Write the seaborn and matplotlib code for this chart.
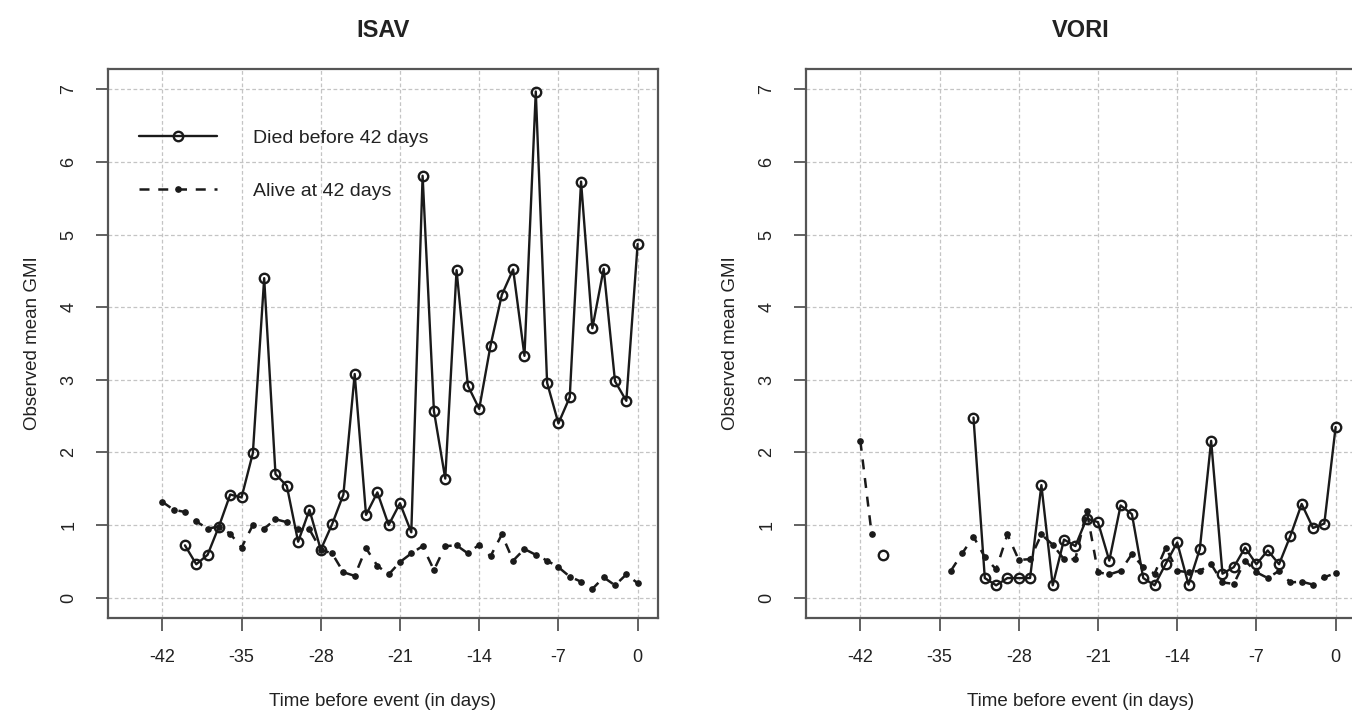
import numpy as np
import pandas as pd
import matplotlib
matplotlib.use("Agg")
import matplotlib.pyplot as plt
import seaborn as sns
from matplotlib.lines import Line2D

# ---------------- data ----------------
panel_titles = ["ISAV", "VORI"]
series_labels = ["Died before 42 days", "Alive at 42 days"]
x_ticks = [-42, -35, -28, -21, -14, -7, 0]
y_ticks = [0, 1, 2, 3, 4, 5, 6, 7]

isav_died_days = list(range(-40, 1))
isav_died = [0.72, 0.46, 0.59, 0.98, 1.42, 1.38, 1.99, 4.40, 1.70, 1.54,
             0.77, 1.21, 0.66, 1.01, 1.42, 3.08, 1.14, 1.45, 1.00, 1.30,
             0.90, 5.81, 2.57, 1.64, 4.51, 2.92, 2.60, 3.47, 4.17, 4.52,
             3.33, 6.97, 2.96, 2.40, 2.76, 5.73, 3.71, 4.53, 2.98, 2.71,
             4.87]

isav_alive_days = list(range(-42, 1))
isav_alive = [1.32, 1.21, 1.18, 1.05, 0.95, 0.98, 0.88, 0.69, 1.00, 0.95,
              1.08, 1.04, 0.94, 0.94, 0.66, 0.61, 0.35, 0.30, 0.68, 0.44,
              0.32, 0.49, 0.61, 0.71, 0.38, 0.71, 0.72, 0.61, 0.73, 0.57,
              0.87, 0.51, 0.67, 0.59, 0.51, 0.42, 0.29, 0.22, 0.12, 0.28,
              0.17, 0.32, 0.20]

# VORI: series with gaps (separate runs of consecutive days)
vori_died_days_a = [-40]
vori_died_a = [0.59]
vori_died_days_b = list(range(-32, 1))
vori_died_b = [2.48, 0.27, 0.17, 0.27, 0.27, 0.27, 1.55, 0.17, 0.80, 0.71,
               1.09, 1.04, 0.51, 1.27, 1.15, 0.27, 0.17, 0.47, 0.76, 0.18,
               0.67, 2.16, 0.33, 0.42, 0.69, 0.46, 0.65, 0.46, 0.85, 1.29,
               0.96, 1.02, 2.35]

vori_alive_days_a = [-42, -41]
vori_alive_a = [2.16, 0.88]
vori_alive_days_b = list(range(-34, 1))
vori_alive_b = [0.37, 0.61, 0.84, 0.56, 0.39, 0.87, 0.52, 0.53, 0.87, 0.73,
                0.53, 0.53, 1.20, 0.35, 0.32, 0.37, 0.60, 0.42, 0.33, 0.69,
                0.37, 0.35, 0.37, 0.46, 0.21, 0.19, 0.51, 0.35, 0.27, 0.37,
                0.21, 0.22, 0.18, 0.28, 0.34]

# ---------------- style ----------------
sns.set_theme(style="white")
plt.rcParams["font.family"] = ["Liberation Sans", "DejaVu Sans"]

LINE_COL = "#1a1a1a"
TXT_COL = "#222222"
DIED_STYLE = dict(color=LINE_COL, linewidth=1.7, linestyle="-", marker="o",
                  markersize=6.8, markerfacecolor="none",
                  markeredgecolor=LINE_COL, markeredgewidth=1.7)
ALIVE_STYLE = dict(color=LINE_COL, linewidth=1.8, linestyle=(0, (4, 3.5)),
                   marker="o", markersize=3.8, markerfacecolor=LINE_COL,
                   markeredgecolor=LINE_COL, markeredgewidth=1.0)

W, H = 1352, 714
fig = plt.figure(figsize=(W / 100, H / 100), dpi=100)
fig.patch.set_facecolor("white")

ax_w = (658 - 108) / W
ax_h = (618 - 69) / H
ax_b = 1 - 618 / H
axes = [fig.add_axes([108 / W, ax_b, ax_w, ax_h]),
        fig.add_axes([806 / W, ax_b, ax_w, ax_h])]

panels = [
    [(isav_died_days, isav_died, DIED_STYLE),
     (isav_alive_days, isav_alive, ALIVE_STYLE)],
    [(vori_died_days_a, vori_died_a, DIED_STYLE),
     (vori_died_days_b, vori_died_b, DIED_STYLE),
     (vori_alive_days_a, vori_alive_a, ALIVE_STYLE),
     (vori_alive_days_b, vori_alive_b, ALIVE_STYLE)],
]

for ax, title, segs in zip(axes, panel_titles, panels):
    ax.set_facecolor("white")
    for xs, ys, st in segs:
        df = pd.DataFrame({"day": xs, "gmi": ys})
        sns.lineplot(data=df, x="day", y="gmi", ax=ax, estimator=None,
                     sort=False, legend=False, zorder=3, **st)
    ax.set_xlim(-46.8, 1.8)
    ax.set_ylim(-0.28, 7.28)
    ax.set_xticks(x_ticks)
    ax.set_xticklabels([str(t) for t in x_ticks])
    ax.set_yticks(y_ticks)
    ax.set_yticklabels([str(t) for t in y_ticks], rotation=90, va="center")
    ax.grid(True, color="#c4c4c4", linestyle=(0, (3, 2)), linewidth=0.9)
    ax.set_axisbelow(True)
    for sp in ax.spines.values():
        sp.set_visible(True)
        sp.set_color("#555555")
        sp.set_linewidth(1.6)
    ax.tick_params(axis="both", direction="out", length=9, width=1.3,
                   color="#555555", labelsize=13, labelcolor=TXT_COL,
                   bottom=True, left=True)
    ax.tick_params(axis="x", pad=13)
    ax.tick_params(axis="y", pad=13)
    ax.set_xlabel("Time before event (in days)", fontsize=13.5,
                  color=TXT_COL, labelpad=20)
    ax.set_ylabel("Observed mean GMI", fontsize=13.5, color=TXT_COL,
                  labelpad=14)
    ax.set_title(title, fontsize=17, fontweight="bold", color=TXT_COL,
                 pad=23)

handles = [Line2D([], [], **DIED_STYLE), Line2D([], [], **ALIVE_STYLE)]
leg = axes[0].legend(handles, series_labels, loc="upper left",
                     bbox_to_anchor=(0.042, 0.905), frameon=False,
                     fontsize=14, handlelength=4.0, handletextpad=1.86,
                     labelspacing=1.85, borderaxespad=0.0)
for t in leg.get_texts():
    t.set_color(TXT_COL)

fig.savefig("out.png", dpi=100, facecolor="white")
